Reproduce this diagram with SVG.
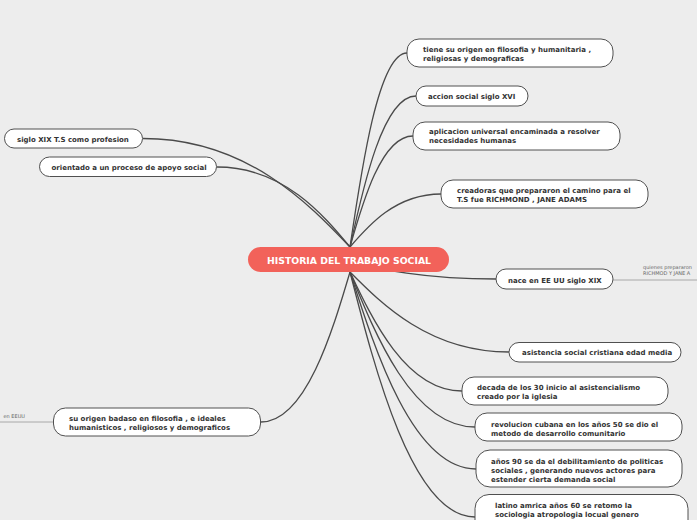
<svg xmlns="http://www.w3.org/2000/svg" width="697" height="520" viewBox="0 0 697 520">
<style>
.bg{fill:#ededed}
.n{fill:#ffffff;stroke:#505050;stroke-width:1}
.t{font-family:"DejaVu Sans",Verdana,sans-serif;font-weight:bold;font-size:7px;fill:#333333}
.c{fill:none;stroke:#4a4a4a;stroke-width:1.3}
.g{fill:none;stroke:#a8a8a8;stroke-width:1}
.s{font-family:"DejaVu Sans",Verdana,sans-serif;font-size:5px;fill:#666666}
</style>
<rect class="bg" x="0" y="0" width="697" height="520"/>
<g id="connectors">
<path class="c" d="M350,247 C361.4,169.4 378.5,53 407,53"/>
<path class="c" d="M350,247 C363.2,186.6 383,96 416,96"/>
<path class="c" d="M350,247 C362.6,202.6 381.5,136 413,136"/>
<path class="c" d="M350,247 C368.2,225.8 395.5,194 441,194"/>
<path class="c" d="M350,262 C379.2,268.8 423,279 496,279"/>
<path class="c" d="M350,272 C381.8,304 429.5,352 509,352"/>
<path class="c" d="M350,272 C372.4,319.6 406,391 462,391"/>
<path class="c" d="M350,272 C375,334 412.5,427 475,427"/>
<path class="c" d="M350,272 C375.2,350.8 413,469 476,469"/>
<path class="c" d="M350,272 C375,370 412.5,517 475,517"/>
<path class="c" d="M350,247 C308.6,203.6 246.5,138.5 143,138.5"/>
<path class="c" d="M350,247 C323.4,215 283.5,167 217,167"/>
<path class="c" d="M350,272 C332.2,332 305.5,422 261,422"/>
<path class="g" d="M613,280 L697,280"/>
<path class="g" d="M0,422 L53,422"/>
</g>
<g id="center">
<rect x="248" y="247" width="201" height="25" rx="12.5" fill="#f2625a"/>
<text x="349" y="264" text-anchor="middle" font-family="DejaVu Sans,Verdana,sans-serif" font-weight="bold" font-size="9.3" fill="#ffffff">HISTORIA DEL TRABAJO SOCIAL</text>
</g>
<g id="n1">
<rect class="n" x="407" y="39" width="206" height="28" rx="12"/>
<text class="t" x="423" y="52">tiene su origen en filosofia y humanitaria ,</text>
<text class="t" x="423" y="61">religiosas y demograficas</text>
</g>
<g id="n2">
<rect class="n" x="416" y="86" width="112" height="20" rx="10"/>
<text class="t" x="428" y="98.5">accion social siglo XVI</text>
</g>
<g id="n3">
<rect class="n" x="413" y="122" width="207" height="28" rx="12"/>
<text class="t" x="429" y="133.5">aplicacion universal encaminada a resolver</text>
<text class="t" x="429" y="142.5">necesidades humanas</text>
</g>
<g id="n4">
<rect class="n" x="441" y="180" width="207" height="28" rx="12"/>
<text class="t" x="457" y="192.5">creadoras que prepararon el camino para el</text>
<text class="t" x="457" y="201.5">T.S fue RICHMOND , JANE ADAMS</text>
</g>
<g id="n5">
<rect class="n" x="496" y="269" width="117" height="20" rx="10"/>
<text class="t" x="508" y="282.5">nace en EE UU siglo XIX</text>
<text class="s" x="643" y="268.5">quienes prepararon</text>
<text class="s" x="643" y="275">RICHMOD Y JANE A</text>
</g>
<g id="n6">
<rect class="n" x="509" y="342.5" width="172" height="19.5" rx="10"/>
<text class="t" x="522" y="355">asistencia social cristiana edad media</text>
</g>
<g id="n7">
<rect class="n" x="462" y="377" width="206" height="28" rx="12"/>
<text class="t" x="477" y="390">decada de los 30 inicio al asistencialismo</text>
<text class="t" x="477" y="399">creado por la iglesia</text>
</g>
<g id="n8">
<rect class="n" x="475" y="413" width="207" height="28" rx="12"/>
<text class="t" x="491" y="426.5">revolucion cubana en los años 50 se dio el</text>
<text class="t" x="491" y="435.5">metodo de desarrollo comunitario</text>
</g>
<g id="n9">
<rect class="n" x="476" y="450" width="206" height="37" rx="14"/>
<text class="t" x="491" y="464">años 90 se da el debilitamiento de politicas</text>
<text class="t" x="491" y="473">sociales , generando nuevos actores para</text>
<text class="t" x="491" y="482">estender cierta demanda social</text>
</g>
<g id="n10">
<rect class="n" x="475" y="494.5" width="213" height="45" rx="14"/>
<text class="t" x="495" y="507.5">latino amrica años 60 se retomo la</text>
<text class="t" x="495" y="516.5">sociologia atropologia locual genero</text>
</g>
<g id="n11">
<rect class="n" x="4.5" y="129" width="138" height="19" rx="9.5"/>
<text class="t" x="17" y="141.5">siglo XIX T.S como profesion</text>
</g>
<g id="n12">
<rect class="n" x="39.5" y="157" width="177" height="19.5" rx="10"/>
<text class="t" x="51.5" y="169.5">orientado a un proceso de apoyo social</text>
</g>
<g id="n13">
<rect class="n" x="53.5" y="408" width="207" height="28" rx="12"/>
<text class="t" x="69" y="420.5">su origen badaso en filosofia , e ideales</text>
<text class="t" x="69" y="429.5">humanisticos , religiosos y demograficos</text>
<text class="s" x="25" y="417.5" text-anchor="end">en EEUU</text>
</g>
</svg>
